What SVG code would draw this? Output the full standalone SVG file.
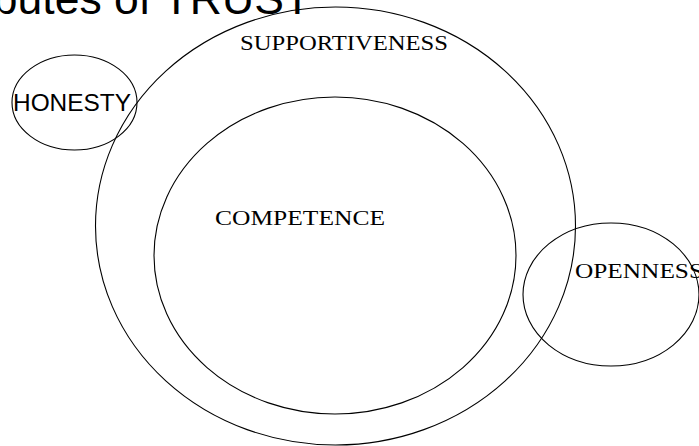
<svg xmlns="http://www.w3.org/2000/svg" width="699" height="446" viewBox="0 0 699 446">
<style>
.shape{fill:none;stroke:#000;stroke-width:1.1}
.serif{font-family:"Liberation Serif",serif;font-size:20px;fill:#000}
.sans{font-family:"Liberation Sans",Arial,sans-serif;fill:#000}
</style>
<rect width="699" height="446" fill="#fff"/>
<text class="sans" x="311" y="13.5" font-size="44.5" text-anchor="end">Attributes of TRUST</text>
<g id="supportiveness">
<ellipse class="shape" cx="335.5" cy="226" rx="240" ry="219"/>
<text class="serif" x="240" y="50" textLength="208" lengthAdjust="spacingAndGlyphs">SUPPORTIVENESS</text>
</g>
<g id="competence">
<ellipse class="shape" cx="335" cy="255.5" rx="181" ry="158.5"/>
<text class="serif" x="215" y="225" textLength="170" lengthAdjust="spacingAndGlyphs">COMPETENCE</text>
</g>
<g id="honesty">
<ellipse class="shape" cx="74.5" cy="102.5" rx="62.5" ry="47.5"/>
<text class="sans" x="13" y="111" font-size="24" textLength="118" lengthAdjust="spacingAndGlyphs">HONESTY</text>
</g>
<g id="openness">
<ellipse class="shape" cx="611" cy="294.5" rx="88" ry="71.5"/>
<text class="serif" x="575" y="278" textLength="128" lengthAdjust="spacingAndGlyphs">OPENNESS</text>
</g>
<g id="connectors"/>
</svg>
